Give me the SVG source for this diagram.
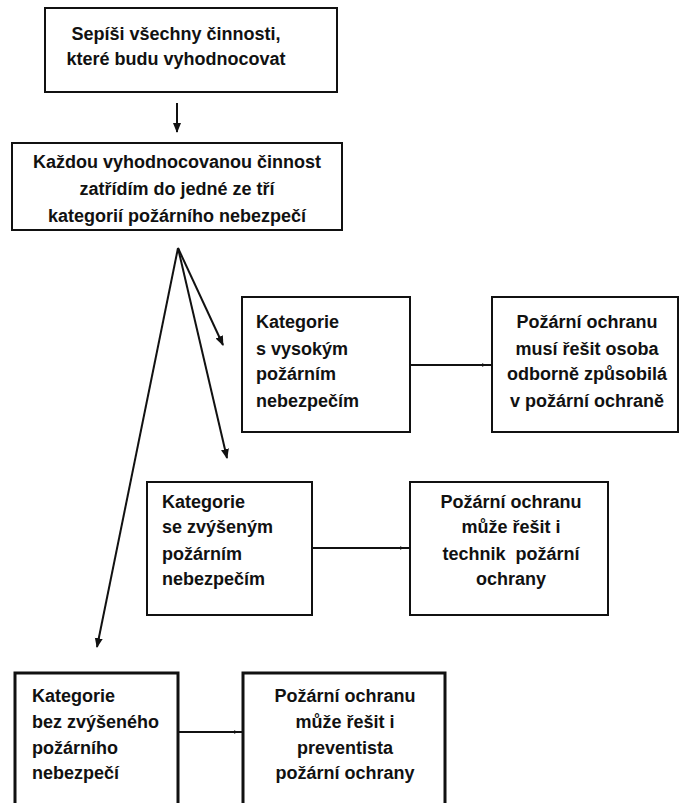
<svg xmlns="http://www.w3.org/2000/svg" width="680" height="803" viewBox="0 0 680 803">
<style>
.box{fill:#fff;stroke:#111;stroke-width:2}
.thick{stroke-width:3}
text{font-family:"Liberation Sans","DejaVu Sans",sans-serif;font-weight:bold;font-size:18px;fill:#111}
.c{text-anchor:middle}
.pre{white-space:pre}
.con{stroke:#111;stroke-width:2;fill:none}
</style>
<defs>
<marker id="ah" viewBox="0 0 10 10" refX="9" refY="5" markerWidth="10" markerHeight="10" orient="auto" markerUnits="userSpaceOnUse">
<path d="M0,1 L10,5 L0,9 z" fill="#111"/>
</marker>
<marker id="sm" viewBox="0 0 10 10" refX="9" refY="5" markerWidth="5" markerHeight="5" orient="auto" markerUnits="userSpaceOnUse">
<path d="M0,1 L10,5 L0,9 z" fill="#111"/>
</marker>
</defs>
<rect width="680" height="803" fill="#fff"/>
<g id="connectors">
<line class="con" x1="177" y1="103" x2="177" y2="132" marker-end="url(#ah)"/>
<line class="con" x1="178" y1="248" x2="223" y2="345" marker-end="url(#ah)"/>
<line class="con" x1="178" y1="248" x2="227" y2="458" marker-end="url(#ah)"/>
<line class="con" x1="178" y1="248" x2="97" y2="647" marker-end="url(#ah)"/>
<line class="con" x1="410" y1="365" x2="486" y2="365" marker-end="url(#sm)"/>
<line class="con" x1="312" y1="548" x2="404" y2="548" marker-end="url(#sm)"/>
<line class="con" x1="178" y1="732" x2="238" y2="732" marker-end="url(#sm)"/>
<line class="con" x1="486" y1="365" x2="492" y2="365"/>
<line class="con" x1="404" y1="548" x2="410" y2="548"/>
<line class="con" x1="238" y1="732" x2="243" y2="732"/>
</g>
<g id="n1">
<rect class="box" x="45" y="8" width="292" height="84"/>
<text class="c" x="176" y="40">Sepíši všechny činnosti,</text>
<text class="c" x="176" y="65">které budu vyhodnocovat</text>
</g>
<g id="n2">
<rect class="box" x="12" y="143" width="330" height="87"/>
<text class="c" x="177" y="168">Každou vyhodnocovanou činnost</text>
<text class="c" x="177" y="195">zatřídím do jedné ze tří</text>
<text class="c" x="177" y="222">kategorií požárního nebezpečí</text>
</g>
<g id="n3">
<rect class="box" x="242" y="297" width="168" height="135"/>
<text x="256" y="328">Kategorie</text>
<text x="256" y="355">s vysokým</text>
<text x="256" y="380">požárním</text>
<text x="256" y="407">nebezpečím</text>
</g>
<g id="n4">
<rect class="box" x="492" y="297" width="186" height="135"/>
<text class="c" x="587" y="328">Požární ochranu</text>
<text class="c" x="587" y="355">musí řešit osoba</text>
<text class="c" x="587" y="380">odborně způsobilá</text>
<text class="c" x="587" y="407">v požární ochraně</text>
</g>
<g id="n5">
<rect class="box" x="147" y="482" width="165" height="133"/>
<text x="162" y="508">Kategorie</text>
<text x="162" y="533">se zvýšeným</text>
<text x="162" y="560">požárním</text>
<text x="162" y="585">nebezpečím</text>
</g>
<g id="n6">
<rect class="box" x="410" y="482" width="198" height="133"/>
<text class="c" x="511" y="508">Požární ochranu</text>
<text class="c" x="511" y="533">může řešit i</text>
<text class="c pre" x="511" y="560">technik  požární</text>
<text class="c" x="511" y="585">ochrany</text>
</g>
<g id="n7">
<rect class="box thick" x="15" y="673" width="163" height="140"/>
<text x="32" y="702">Kategorie</text>
<text x="32" y="728">bez zvýšeného</text>
<text x="32" y="754">požárního</text>
<text x="32" y="779">nebezpečí</text>
</g>
<g id="n8">
<rect class="box thick" x="243" y="673" width="202" height="140"/>
<text class="c" x="345" y="702">Požární ochranu</text>
<text class="c" x="345" y="728">může řešit i</text>
<text class="c" x="345" y="754">preventista</text>
<text class="c" x="345" y="779">požární ochrany</text>
</g>
</svg>
